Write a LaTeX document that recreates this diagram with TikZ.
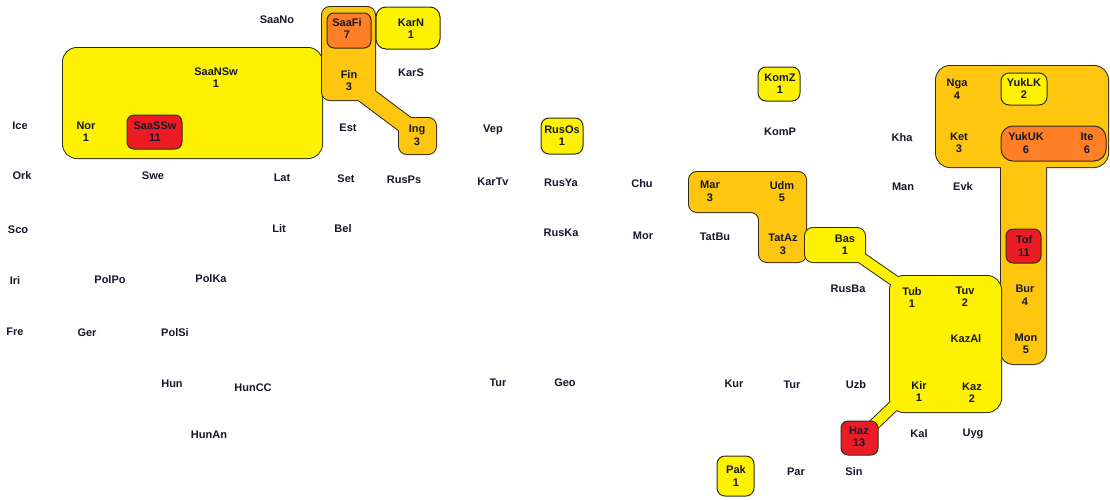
\documentclass[tikz,border=0pt]{standalone}
\usepackage{fontspec}
\setmainfont{Liberation Sans}
\definecolor{yel}{HTML}{FFF200}
\definecolor{gold}{HTML}{FFC60F}
\definecolor{org}{HTML}{FF7F27}
\definecolor{redb}{HTML}{ED1C24}
\definecolor{bord}{HTML}{2E2E1E}
\definecolor{txt}{HTML}{15182A}
\begin{document}
\begin{tikzpicture}[x=1pt,y=-1pt,
  lbl/.style={inner sep=0pt,align=center,text=txt,font=\fontsize{11}{12.5}\selectfont\bfseries},
  gout/.style={draw=bord,line width=2pt,fill=#1},
  gin/.style={fill=#1},
  bandout/.style={draw=bord,line width=#1,line cap=butt},
  bandin/.style={line cap=butt}]
\useasboundingbox[fill=white] (0,0) rectangle (1110,499);

% ---- SaaNSw group (yellow)
\path[gout=yel,rounded corners=14pt] (63,48) rectangle (322,158);
\path[gin=yel,rounded corners=14pt] (63,48) rectangle (322,158);
\path[gout=redb,line width=1pt,rounded corners=7pt] (127,115) rectangle (182,149);

% ---- Fin / Ing group (gold)
\path[gout=gold,rounded corners=8pt] (322,7) rectangle (375,100);
\path[gout=gold,rounded corners=8pt] (399,118) rectangle (436,154);
\draw[bandout=19pt] (350,83) -- (418,134);
\path[gin=gold,rounded corners=8pt] (322,7) rectangle (375,100);
\path[gin=gold,rounded corners=8pt] (399,118) rectangle (436,154);
\draw[bandin,gold,line width=17pt] (350,83) -- (418,134);
\path[gout=org,line width=1pt,rounded corners=7pt] (327,13) rectangle (371,48);

% ---- single boxes
\path[gout=yel,line width=1pt,rounded corners=10pt] (376,7) rectangle (440,49);
\path[gout=yel,line width=1pt,rounded corners=8pt] (541,118) rectangle (583,154);
\path[gout=yel,line width=1pt,rounded corners=8pt] (758,67) rectangle (800,101);
\path[gout=yel,line width=1pt,rounded corners=8pt] (717,456) rectangle (754,496);

% ---- Mar / Udm / TatAz group (gold)
\path[gout=gold,rounded corners=8pt] (689,172) -- (806,172) -- (806,262) -- (759,262) -- (759,212) -- (689,212) -- cycle;
\path[gin=gold,rounded corners=8pt] (689,172) -- (806,172) -- (806,262) -- (759,262) -- (759,212) -- (689,212) -- cycle;

% ---- Siberian group (gold)
\path[gout=gold,rounded corners=14pt] (936,66) rectangle (1108,167);
\path[gout=gold,rounded corners=12pt] (1001,150) rectangle (1046,364);
\path[gin=gold,rounded corners=14pt] (936,66) rectangle (1108,167);
\path[gin=gold,rounded corners=12pt] (1001,150) rectangle (1046,364);
\path[gout=yel,line width=1pt,rounded corners=8pt] (1001,73) rectangle (1047,105);
\path[gout=org,line width=1pt,rounded corners=12pt] (1001,126) rectangle (1106,161);
\path[gout=redb,line width=1pt,rounded corners=7pt] (1006,229) rectangle (1041,263);

% ---- Turkic group (yellow): Bas + Tub block + bands
\path[gout=yel,rounded corners=8pt] (805,228) rectangle (865,262);
\path[gout=yel,rounded corners=14pt] (890,276) rectangle (1001,412);
\draw[bandout=12pt] (850,250) -- (905,288);
\draw[bandout=12pt] (860,438) -- (905,395);
\path[gin=yel,rounded corners=8pt] (805,228) rectangle (865,262);
\path[gin=yel,rounded corners=14pt] (890,276) rectangle (1001,412);
\draw[bandin,yel,line width=10pt] (850,250) -- (905,288);
\draw[bandin,yel,line width=10pt] (860,438) -- (905,395);
\path[gout=redb,line width=1pt,rounded corners=7pt] (841,421) rectangle (878,455);

% ---- labels
\node[lbl] (saano) at (277,20) {SaaNo};
\node[lbl] (saafi) at (347,28.5) {SaaFi\\7};
\node[lbl] (karn) at (411,28.5) {KarN\\1};
\node[lbl] (saansw) at (216,77.5) {SaaNSw\\1};
\node[lbl] (fin) at (349,80.5) {Fin\\3};
\node[lbl] (kars) at (411,73) {KarS};
\node[lbl] (ice) at (20,126) {Ice};
\node[lbl] (nor) at (86,131.5) {Nor\\1};
\node[lbl] (saassw) at (155,131.5) {SaaSSw\\11};
\node[lbl] (est) at (348,128) {Est};
\node[lbl] (ing) at (417,135.5) {Ing\\3};
\node[lbl] (vep) at (493,130) {Vep};
\node[lbl] (rusos) at (562,135.5) {RusOs\\1};
\node[lbl] (ork) at (22,176) {Ork};
\node[lbl] (swe) at (153,176) {Swe};
\node[lbl] (lat) at (282,178) {Lat};
\node[lbl] (set) at (346,179) {Set};
\node[lbl] (rusps) at (404,180) {RusPs};
\node[lbl] (kartv) at (493,182) {KarTv};
\node[lbl] (rusya) at (561,183) {RusYa};
\node[lbl] (chu) at (642,184) {Chu};
\node[lbl] (sco) at (18,230) {Sco};
\node[lbl] (lit) at (279,229) {Lit};
\node[lbl] (bel) at (343,229) {Bel};
\node[lbl] (ruska) at (561,233) {RusKa};
\node[lbl] (mor) at (643,236) {Mor};
\node[lbl] (iri) at (15,281) {Iri};
\node[lbl] (polpo) at (110,280) {PolPo};
\node[lbl] (polka) at (211,279) {PolKa};
\node[lbl] (fre) at (15,332) {Fre};
\node[lbl] (ger) at (87,333) {Ger};
\node[lbl] (polsi) at (175,333) {PolSi};
\node[lbl] (hun) at (172,384) {Hun};
\node[lbl] (huncc) at (253,388) {HunCC};
\node[lbl] (hunan) at (209,435) {HunAn};
\node[lbl] (tur) at (498,383) {Tur};
\node[lbl] (geo) at (565,383) {Geo};
\node[lbl] (komz) at (780,83.5) {KomZ\\1};
\node[lbl] (komp) at (780,132) {KomP};
\node[lbl] (kha) at (902,138) {Kha};
\node[lbl] (nga) at (957,89) {Nga\\4};
\node[lbl] (yuklk) at (1024,88.5) {YukLK\\2};
\node[lbl] (ket) at (959,143) {Ket\\3};
\node[lbl] (yukuk) at (1026,143) {YukUK\\6};
\node[lbl] (ite) at (1087,143.5) {Ite\\6};
\node[lbl] (man) at (903,187) {Man};
\node[lbl] (evk) at (963,187) {Evk};
\node[lbl] (mar) at (710,191.5) {Mar\\3};
\node[lbl] (udm) at (782,191.5) {Udm\\5};
\node[lbl] (tatbu) at (715,237) {TatBu};
\node[lbl] (tataz) at (783,244.5) {TatAz\\3};
\node[lbl] (bas) at (845,244.5) {Bas\\1};
\node[lbl] (tof) at (1024,246) {Tof\\11};
\node[lbl] (rusba) at (848,289) {RusBa};
\node[lbl] (tub) at (912,297.5) {Tub\\1};
\node[lbl] (tuv) at (965,296.5) {Tuv\\2};
\node[lbl] (bur) at (1025,295) {Bur\\4};
\node[lbl] (kazal) at (966,339) {KazAl};
\node[lbl] (mon) at (1026,344) {Mon\\5};
\node[lbl] (kur) at (734,384) {Kur};
\node[lbl] (tur2) at (792,385) {Tur};
\node[lbl] (uzb) at (856,385) {Uzb};
\node[lbl] (kir) at (919,391.5) {Kir\\1};
\node[lbl] (kaz) at (972,392.5) {Kaz\\2};
\node[lbl] (haz) at (859,437) {Haz\\13};
\node[lbl] (kal) at (919,434) {Kal};
\node[lbl] (uyg) at (973,434) {Uyg};
\node[lbl] (pak) at (736,476) {Pak\\1};
\node[lbl] (par) at (796,472) {Par};
\node[lbl] (sin) at (854,472) {Sin};
\end{tikzpicture}
\end{document}
